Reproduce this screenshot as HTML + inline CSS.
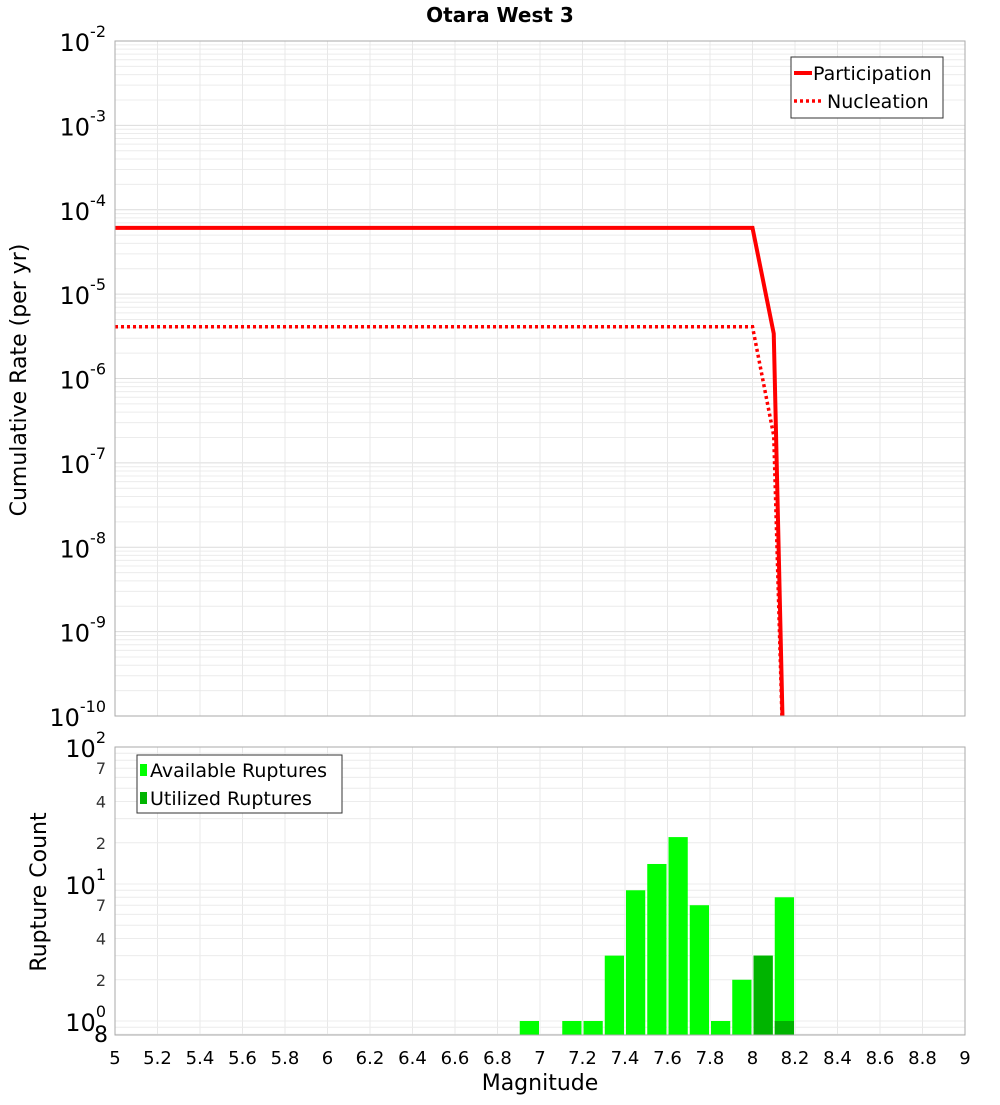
<!DOCTYPE html>
<html><head><meta charset="utf-8"><style>
body{margin:0;background:#fff;font-family:"Liberation Sans","DejaVu Sans",sans-serif}
svg text{font-family:"DejaVu Sans","Liberation Sans",sans-serif}
</style></head><body>
<svg id="c" width="1000" height="1100" xmlns="http://www.w3.org/2000/svg">
<text x="500" y="22" text-anchor="middle" font-size="20" font-weight="bold">Otara West 3</text>
<text transform="translate(26,380) rotate(-90)" text-anchor="middle" font-size="22">Cumulative Rate (per yr)</text>
<text transform="translate(46,892) rotate(-90)" text-anchor="middle" font-size="22">Rupture Count</text>
<text x="540" y="1090" text-anchor="middle" font-size="22">Magnitude</text>
<g id="topg"></g><g id="botg"></g>
</svg>
<script>
const partMag=[5,8.0,8.1,8.15];
const partRate=[6.1e-5,6.1e-5,3.4e-6,1e-11];
const nuclMag=[5,8.0,8.1,8.15];
const nuclRate=[4.1e-6,4.1e-6,2.1e-7,1e-11];
const binMag=[6.95,7.15,7.25,7.35,7.45,7.55,7.65,7.75,7.85,7.95,8.05,8.15];
const availCount=[1,1,1,3,9,14,22,7,1,2,3,8];
const utilMag=[8.05,8.15];
const utilCount=[3,1];
const xTicks=[5,5.2,5.4,5.6,5.8,6,6.2,6.4,6.6,6.8,7,7.2,7.4,7.6,7.8,8,8.2,8.4,8.6,8.8,9];
const topExp=[-2,-3,-4,-5,-6,-7,-8,-9,-10];
const botMinor=[2,4,7];

const NS="http://www.w3.org/2000/svg";
const L=115,R=965,T1=41,B1=716,T2=747,B2=1035;
const x=m=>L+(m-5)/4*(R-L);
const y1=v=>T1+(-2-Math.log10(v))*(B1-T1)/8;
const y2=v=>1021-Math.log10(v)*137;
function mk(p,tag,at,txt){const e=document.createElementNS(NS,tag);for(const k in at)e.setAttribute(k,at[k]);if(txt!==undefined)e.textContent=txt;p.appendChild(e);return e;}
const topG=document.getElementById('topg'),botG=document.getElementById('botg');
const defs=mk(topG,'defs',{});
const cp=mk(defs,'clipPath',{id:'cp1'});mk(cp,'rect',{x:L,y:T1,width:R-L,height:B1-T1});
const cp2=mk(defs,'clipPath',{id:'cp2'});mk(cp2,'rect',{x:L,y:T2,width:R-L,height:B2-T2});
for(let e=-10;e<-2;e++){for(let k=1;k<10;k++){const v=k*Math.pow(10,e);const yy=y1(v);
const g=mk(topG,'line',{x1:L,x2:R,y1:yy,y2:yy,stroke:k==1?'#dcdcdc':'#ececec','stroke-width':1});

}}
xTicks.forEach(t=>{const g=mk(topG,'line',{x1:x(t),x2:x(t),y1:T1,y2:B1,stroke:'#e8e8e8'});


const g2=mk(botG,'line',{x1:x(t),x2:x(t),y1:T2,y2:B2,stroke:'#e8e8e8'});


const tl=mk(botG,'text',{x:x(t),y:1064,'text-anchor':'middle','font-size':18},String(t));

});
topExp.forEach(e=>{const yy=y1(Math.pow(10,e));
const t=mk(topG,'text',{x:106,y:yy+10,'text-anchor':'end','font-size':24});


mk(t,'tspan',{},'10');mk(t,'tspan',{dy:-14,'font-size':16},String(e));});
function line(mags,vals,dash,name){const pts=mags.map((m,i)=>x(m)+','+y1(vals[i])).join(' ');
const p=mk(topG,'polyline',{points:pts,fill:'none',stroke:'#ff0000','stroke-width':dash?3.5:4,'clip-path':'url(#cp1)'});
if(dash)p.setAttribute('stroke-dasharray','3,3');

}
line(nuclMag,nuclRate,true,'nucleation-line');
line(partMag,partRate,false,'participation-line');
const f1=mk(topG,'rect',{x:L,y:T1,width:R-L,height:B1-T1,fill:'none',stroke:'#aaa'});


const lg=mk(topG,'g',{});


mk(lg,'rect',{x:791,y:57,width:152,height:61,fill:'#fff',stroke:'#333'});
mk(lg,'line',{x1:794,x2:812,y1:73,y2:73,stroke:'#f00','stroke-width':4});
mk(lg,'text',{x:813,y:80,'font-size':19},'Participation');
mk(lg,'line',{x1:794,x2:822,y1:101,y2:101,stroke:'#f00','stroke-width':3.5,'stroke-dasharray':'3,3'});
mk(lg,'text',{x:827,y:108,'font-size':19},'Nucleation');
for(let e=-1;e<2;e++){for(let k=1;k<10;k++){const v=k*Math.pow(10,e);const yy=y2(v);if(yy>B2||yy<T2)continue;
const g=mk(botG,'line',{x1:L,x2:R,y1:yy,y2:yy,stroke:'#ececec'});

}}
[0,1,2].forEach(e=>{const yy=y2(Math.pow(10,e));
const t=mk(botG,'text',{x:106,y:yy+10,'text-anchor':'end','font-size':24});


mk(t,'tspan',{},'10');mk(t,'tspan',{dy:-14,'font-size':16},String(e));
if(e<2)botMinor.forEach(k=>{const m=mk(botG,'text',{x:106,y:y2(k*Math.pow(10,e))+6,'text-anchor':'end','font-size':16,fill:'#333'},String(k));

});});
const l8=mk(botG,'text',{x:108,y:1042,'text-anchor':'end','font-size':22},'8');


const bw=(x(0.1)-x(0))-2;
binMag.forEach((m,i)=>{const yy=y2(availCount[i]);
const b=mk(botG,'rect',{x:x(m)-bw/2,y:yy,width:bw,height:B2-yy,fill:'#00ff00','clip-path':'url(#cp2)'});

});
utilMag.forEach((m,i)=>{const yy=y2(utilCount[i]);
const b=mk(botG,'rect',{x:x(m)-bw/2,y:yy,width:bw,height:B2-yy,fill:'#00b400','clip-path':'url(#cp2)'});

});
const f2=mk(botG,'rect',{x:L,y:T2,width:R-L,height:B2-T2,fill:'none',stroke:'#aaa'});


const lg2=mk(botG,'g',{});


mk(lg2,'rect',{x:137,y:755,width:205,height:58,fill:'#fff',stroke:'#333'});
mk(lg2,'rect',{x:140,y:764,width:7,height:12,fill:'#00ff00'});
mk(lg2,'text',{x:150,y:777,'font-size':19},'Available Ruptures');
mk(lg2,'rect',{x:140,y:792,width:7,height:12,fill:'#00b400'});
mk(lg2,'text',{x:150,y:805,'font-size':19},'Utilized Ruptures');
</script>
</body></html>
